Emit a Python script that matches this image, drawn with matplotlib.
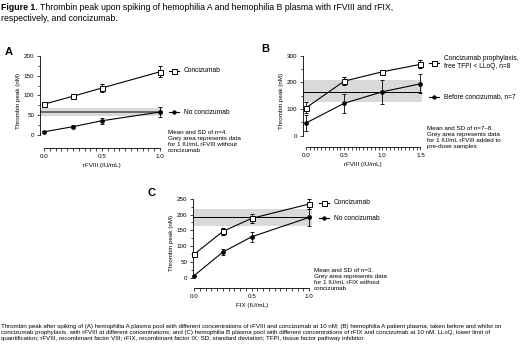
import numpy as np
import matplotlib
matplotlib.use('Agg')
import matplotlib.pyplot as plt
from matplotlib.lines import Line2D
from matplotlib.ticker import FixedLocator

plt.rcParams['font.family'] = ['Liberation Sans', 'DejaVu Sans']

# panel A: rFVIII in hemophilia A plasma pool
a_x = [0.0, 0.25, 0.5, 1.0]
a_conc = [78, 98, 119, 160]
a_conc_sd = [3, 4, 10, 14]
a_none = [8, 21, 36, 58]
a_none_sd = [2, 3, 8, 12]
a_band = (48, 68, 58)

# panel B: patient plasma before / during prophylaxis
b_x = [0.0, 0.5, 1.0, 1.5]
b_conc = [105, 205, 240, 268]
b_conc_sd = [20, 15, 8, 15]
b_none = [48, 122, 165, 195]
b_none_sd = [30, 35, 45, 35]
b_band = (125, 208, 165)

# panel C: rFIX in hemophilia B plasma pool
c_x = [0.0, 0.25, 0.5, 1.0]
c_conc = [75, 147, 188, 233]
c_conc_sd = [3, 10, 15, 15]
c_none = [8, 82, 130, 191]
c_none_sd = [2, 10, 15, 27]
c_band = (165, 217, 192)

W, H = 520, 354
fig = plt.figure(figsize=(W / 100, H / 100), dpi=100)


def px_axes(x0, x1, y0, y1):
    # pixel box -> figure fraction axes
    return fig.add_axes([x0 / W, 1 - y1 / H, (x1 - x0) / W, (y1 - y0) / H])


def panel(ax, xs, conc, conc_sd, none, none_sd, band, xlim, ylim, ymax, ymaj, xmax,
          xlabel, band_line):
    ax.axhspan(band[0], band[1], color='#d9d9d9', lw=0, zorder=0)
    ax.axhline(band[2], **band_line, zorder=1)
    ax.errorbar(xs, none, yerr=none_sd, color='black', marker='o', ms=2.4, lw=0.8,
                elinewidth=0.6, capsize=1.5, capthick=0.6, zorder=3, clip_on=False)
    ax.errorbar(xs, conc, yerr=conc_sd, color='black', marker='s', ms=3.6, mfc='white',
                mew=0.7, lw=0.8, elinewidth=0.6, capsize=1.5, capthick=0.6, zorder=4,
                clip_on=False)
    ax.set_xlim(*xlim)
    ax.set_ylim(*ylim)
    for s in ['top', 'right']:
        ax.spines[s].set_visible(False)
    ax.spines['left'].set_bounds(0, ymax)
    ax.spines['bottom'].set_bounds(0, xmax)
    for s in ['left', 'bottom']:
        ax.spines[s].set_linewidth(0.6)
    yt = np.arange(0, ymax + 1, ymaj)
    xt = np.arange(0, xmax + 0.01, 0.5)
    ax.set_yticks(yt)
    ax.set_xticks(xt)
    ax.yaxis.set_minor_locator(FixedLocator(np.arange(0, ymax + 1, ymaj / 2)))
    ax.xaxis.set_minor_locator(FixedLocator(np.arange(0, xmax + 0.01, 0.05)))
    ax.tick_params(which='both', width=0.5, labelsize=4.5, pad=1.5, colors='black')
    ax.tick_params(which='major', length=2.5)
    ax.tick_params(which='minor', length=1.8)
    ax.set_xticklabels(['%.1f' % v for v in xt])
    ax.set_xlabel(xlabel, fontsize=4.5, labelpad=3)
    ax.set_ylabel('Thrombin peak (nM)', fontsize=4.5, labelpad=2)
    ax.patch.set_alpha(0)


# ---- panel A
axA = px_axes(40, 163, 54, 148)
panel(axA, a_x, a_conc, a_conc_sd, a_none, a_none_sd, a_band, (-0.0345, 1.026),
      (-33, 205), 200, 50, 1.0, 'rFVIII (IU/mL)', dict(color='#555555', lw=1.2))

# ---- panel B
axB = px_axes(303, 422, 55, 147)
panel(axB, b_x, b_conc, b_conc_sd, b_none, b_none_sd, b_band, (-0.04, 1.52),
      (-42, 303), 300, 100, 1.5, 'rFVIII (IU/mL)', dict(color='black', lw=0.7))

# ---- panel C
axC = px_axes(193, 312, 198, 288)
panel(axC, c_x, c_conc, c_conc_sd, c_none, c_none_sd, c_band, (-0.01, 1.025),
      (-31, 252), 250, 50, 1.0, 'FIX (IU/mL)', dict(color='black', lw=0.7))


def leg(px, py, label, marker, mfc):
    x, y = px / W, 1 - py / H
    fig.lines.append(Line2D([x - 5 / W, x + 5 / W], [y, y], transform=fig.transFigure,
                            color='black', lw=0.8))
    fig.lines.append(Line2D([x], [y], transform=fig.transFigure, color='black',
                            marker=marker, ms=3.6 if marker == 's' else 2.4,
                            mfc=mfc, mew=0.7))
    fig.text((px + 10) / W, y, label, fontsize=4.8, va='center', ha='left')


leg(174, 71, 'Concizumab', 's', 'white')
leg(174, 112, 'No concizumab', 'o', 'black')
leg(434, 63, 'Concizumab prophylaxis,\nfree TFPI < LLoQ, n=8', 's', 'white')
leg(434, 97, 'Before concizumab, n=7', 'o', 'black')
leg(324, 203, 'Concizumab', 's', 'white')
leg(324, 218, 'No concizumab', 'o', 'black')

fig.text(168 / W, 1 - 130 / H,
         'Mean and SD of n=4.\nGrey area represents data\nfor 1 IU/mL rFVIII without\nconcizumab',
         fontsize=4.5, va='top', ha='left', linespacing=1.25)
fig.text(427 / W, 1 - 126 / H,
         'Mean and SD of n=7\u20138.\nGrey area represents data\nfor 1 IU/mL rFVIII added to\npre-dose samples',
         fontsize=4.5, va='top', ha='left', linespacing=1.25)
fig.text(314 / W, 1 - 268 / H,
         'Mean and SD of n=3.\nGrey area represents data\nfor 1 IU/mL rFIX without\nconcizumab',
         fontsize=4.5, va='top', ha='left', linespacing=1.25)

# panel letters
fig.text(5 / W, 1 - 52 / H, 'A', fontsize=8, fontweight='bold', va='center')
fig.text(261 / W, 1 - 49 / H, 'B', fontsize=8, fontweight='bold', va='center')
fig.text(147 / W, 1 - 193 / H, 'C', fontsize=8, fontweight='bold', va='center')

# title: bold lead-in then plain text
t1 = fig.text(1 / W, 1 - 3 / H, 'Figure 1.', fontsize=6.3, fontweight='bold',
              va='top', ha='left')
fig.canvas.draw()
bb = t1.get_window_extent()
fig.text((bb.x1 + 2) / W, 1 - 3 / H,
         'Thrombin peak upon spiking of hemophilia A and hemophilia B plasma with rFVIII and rFIX,',
         fontsize=6.3, va='top', ha='left')
fig.text(1 / W, 1 - 14 / H, 'respectively, and concizumab.', fontsize=6.3, va='top', ha='left')

# footnote
fig.text(1 / W, 1 - 324 / H,
         'Thrombin peak after spiking of (A) hemophilia A plasma pool with different concentrations '
         'of rFVIII and concizumab at 10 nM; (B) hemophilia A patient plasma, taken before and whilst on\n'
         'concizumab prophylaxis, with rFVIII at different concentrations; and (C) hemophilia B plasma '
         'pool with different concentrations of rFIX and concizumab at 10 nM. LLoQ, lower limit of\n'
         'quantification; rFVIII, recombinant factor VIII; rFIX, recombinant factor IX; SD, standard '
         'deviation; TFPI, tissue factor pathway inhibitor.',
         fontsize=4.4, va='top', ha='left', linespacing=1.3)

fig.savefig('out.png', dpi=100)
